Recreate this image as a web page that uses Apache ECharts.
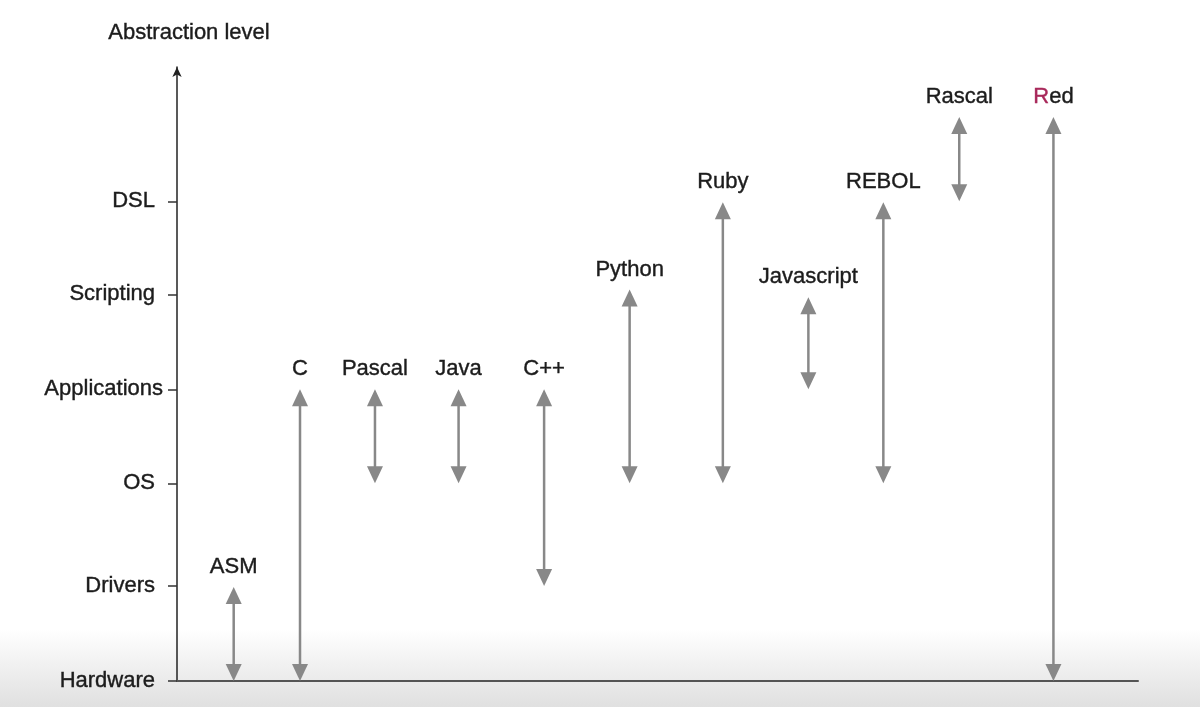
<!DOCTYPE html>
<html>
<head>
<meta charset="utf-8">
<script src="https://cdn.jsdelivr.net/npm/echarts@6/dist/echarts.min.js"></script>
<style>
  html, body { margin: 0; padding: 0; background: #fff; }
  #chart { width: 1200px; height: 707px; }
</style>
</head>
<body>
<div id="chart"></div>
<script>
// abstraction levels (y axis) and where their ticks sit
var levels = ['Hardware', 'Drivers', 'OS', 'Applications', 'Scripting', 'DSL'];
var levelPos = [0, 0.99, 2.06, 3.04, 4.03, 5];

// languages, their horizontal slot, and the range they cover
var langs = ['ASM', 'C', 'Pascal', 'Java', 'C++', 'Python', 'Ruby', 'Javascript', 'REBOL', 'Rascal', 'Red'];
var langX = [5.9, 12.8, 20.6, 29.3, 38.2, 47.1, 56.8, 65.7, 73.5, 81.4, 91.2];
var lowLevel = [0, 0, 2.06, 2.06, 0.99, 2.06, 2.06, 3.04, 2.06, 5, 0];
var highLevel = [0.98, 3.04, 3.04, 3.04, 3.04, 4.08, 4.99, 4.0, 4.99, 5.88, 5.88];

var chart = echarts.init(document.getElementById('chart'));

var data = langs.map(function (n, i) {
    return [langX[i], lowLevel[i], highLevel[i], n];
});

var arrowColor = '#888888';
var textColor = '#1c1c1c';
var fontName = '"Liberation Sans", Arial, sans-serif';
var headW = 8, headH = 17;

function renderArrow(params, api) {
    var x = api.value(0);
    var lo = api.coord([x, api.value(1)]);
    var hi = api.coord([x, api.value(2)]);
    var name = langs[params.dataIndex];
    var cx = lo[0];
    var text = name === 'Red' ? '{r|R}{e|ed}' : name;
    return {
        type: 'group',
        children: [{
            type: 'line',
            shape: {x1: cx, y1: hi[1] + headH - 2, x2: cx, y2: lo[1] - headH + 2},
            style: {stroke: arrowColor, lineWidth: 2.5}
        }, {
            type: 'polygon',
            shape: {points: [[cx, hi[1]], [cx - headW, hi[1] + headH], [cx + headW, hi[1] + headH]]},
            style: {fill: arrowColor}
        }, {
            type: 'polygon',
            shape: {points: [[cx, lo[1]], [cx - headW, lo[1] - headH], [cx + headW, lo[1] - headH]]},
            style: {fill: arrowColor}
        }, {
            type: 'text',
            x: cx,
            y: hi[1] - 20,
            style: {
                text: text,
                fill: textColor,
                stroke: textColor,
                lineWidth: 0.4,
                font: '22px ' + fontName,
                align: 'center',
                verticalAlign: 'middle',
                rich: {
                    r: {fill: '#a8285a', stroke: '#a8285a', lineWidth: 0.4, fontSize: 22, fontFamily: 'Liberation Sans'},
                    e: {fill: textColor, stroke: textColor, lineWidth: 0.4, fontSize: 22, fontFamily: 'Liberation Sans'}
                }
            }
        }]
    };
}

var option = {
    animation: false,
    backgroundColor: new echarts.graphic.LinearGradient(0, 0, 0, 1, [
        {offset: 0, color: '#ffffff'},
        {offset: 0.89, color: '#ffffff'},
        {offset: 1, color: '#e0e0e0'}
    ]),
    grid: {left: 177, right: 62, top: 67, bottom: 26},
    xAxis: {
        type: 'value',
        min: 0,
        max: 100,
        axisLine: {lineStyle: {color: '#555', width: 2}},
        axisTick: {show: false},
        axisLabel: {show: false},
        splitLine: {show: false}
    },
    yAxis: {
        type: 'value',
        min: 0,
        max: 6.4,
        name: 'Abstraction level',
        nameLocation: 'end',
        nameGap: 23,
        nameTextStyle: {
            color: textColor,
            fontSize: 22,
            fontFamily: 'Liberation Sans',
            textBorderColor: textColor,
            textBorderWidth: 0.4,
            padding: [0, 0, 0, 24]
        },
        axisLine: {
            show: true,
            symbol: ['none', 'arrow'],
            symbolSize: [7, 10],
            lineStyle: {color: '#222', width: 1.5}
        },
        axisTick: {
            show: true,
            length: 9,
            customValues: levelPos,
            lineStyle: {color: '#333', width: 1.5}
        },
        axisLabel: {
            customValues: levelPos,
            margin: 14,
            color: textColor,
            fontSize: 22,
            fontFamily: 'Liberation Sans',
            textBorderColor: textColor,
            textBorderWidth: 0.4,
            formatter: function (v) {
                var i = levelPos.indexOf(v);
                if (i < 0) return '';
                // the long label sits closer to its tick
                return i === 3 ? '{a|' + levels[i] + '}' : '{p|' + levels[i] + '}';
            },
            rich: {
                a: {color: textColor, fontSize: 22, fontFamily: 'Liberation Sans', textBorderColor: textColor, textBorderWidth: 0.4},
                p: {color: textColor, fontSize: 22, fontFamily: 'Liberation Sans', textBorderColor: textColor, textBorderWidth: 0.4, padding: [0, 8, 0, 0]}
            }
        },
        splitLine: {show: false}
    },
    series: [{
        type: 'custom',
        renderItem: renderArrow,
        data: data,
        clip: false
    }]
};

chart.setOption(option);
</script>
</body>
</html>
